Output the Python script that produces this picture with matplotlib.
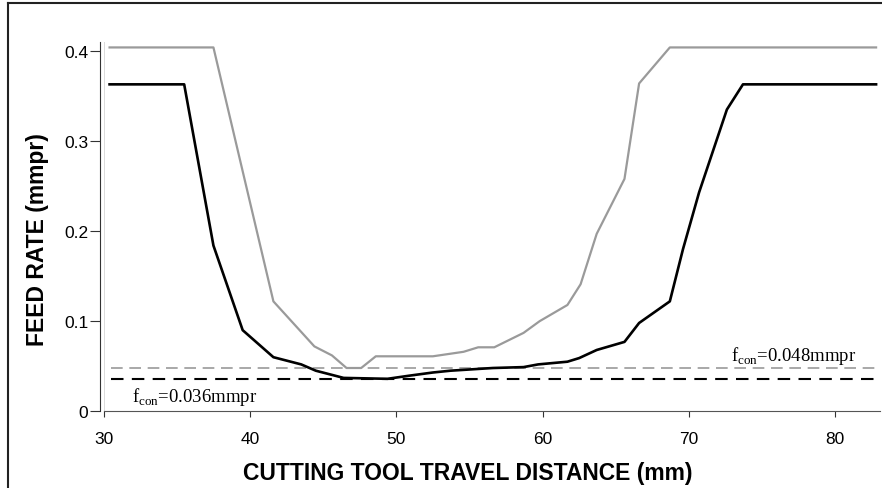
import numpy as np
import matplotlib
matplotlib.use("Agg")
import matplotlib.pyplot as plt
from matplotlib.lines import Line2D

# values
dist_black = [30.4, 35.5, 37.5, 39.5, 41.6, 43.5, 44.5, 46.4, 49.4, 50.9, 52.5,
              53.7, 56.6, 58.7, 59.7, 61.7, 62.5, 63.7, 65.6, 66.6, 68.7, 69.6,
              70.7, 72.6, 73.7, 82.8]
feed_black = [0.363, 0.363, 0.184, 0.090, 0.060, 0.052, 0.045, 0.037, 0.036, 0.0395,
              0.043, 0.045, 0.048, 0.049, 0.052, 0.055, 0.059, 0.068, 0.077, 0.098,
              0.122, 0.180, 0.243, 0.335, 0.363, 0.363]

dist_gray = [30.4, 37.5, 41.6, 44.4, 45.6, 46.6, 47.6, 48.6, 52.5, 54.6, 55.6,
             56.7, 58.7, 59.8, 61.7, 62.6, 63.7, 65.6, 66.6, 68.7, 82.8]
feed_gray = [0.404, 0.404, 0.122, 0.072, 0.062, 0.048, 0.048, 0.061, 0.061, 0.066,
             0.071, 0.071, 0.087, 0.100, 0.118, 0.141, 0.197, 0.258, 0.364, 0.404, 0.404]

f_con_black = 0.036
f_con_gray = 0.048
x_ticks = [30, 40, 50, 60, 70, 80]
y_ticks = [0, 0.1, 0.2, 0.3, 0.4]
y_ticklabels = ["0", "0.1", "0.2", "0.3", "0.4"]

plt.rcParams['font.family'] = ['Liberation Sans', 'DejaVu Sans']
plt.rcParams['mathtext.fontset'] = 'custom'
plt.rcParams['mathtext.rm'] = 'Liberation Serif'

fig = plt.figure(figsize=(8.82, 4.89), dpi=100)
ax = fig.add_axes([0.1176, 0.157, 0.880, 0.755])

# outer frame (left and top only)
fig.add_artist(Line2D([0.009, 0.009], [0, 0.991], transform=fig.transFigure,
                      color='#222222', lw=1.5))
fig.add_artist(Line2D([0.009, 1.0], [0.991, 0.991], transform=fig.transFigure,
                      color='#222222', lw=1.5))

ax.axvline(30, color='#d4d4d4', lw=1.2, zorder=1)
ax.plot([30.5, 82.8], [f_con_gray, f_con_gray], color='#999999', lw=1.2,
        dashes=(7, 4))
ax.plot([30.5, 82.8], [f_con_black, f_con_black], color='black', lw=1.5,
        dashes=(6, 4))
ax.plot(dist_gray, feed_gray, color='#9a9a9a', lw=1.6)
ax.plot(dist_black, feed_black, color='black', lw=1.9)

ax.text(31.9, 0.0118, r'f$_{\mathrm{con}}$=0.036mmpr', family='Liberation Serif',
        fontsize=13.5)
ax.text(72.85, 0.057, r'f$_{\mathrm{con}}$=0.048mmpr', family='Liberation Serif',
        fontsize=13.5)

ax.set_xlim(30, 83.06)
ax.set_ylim(0, 0.41)
ax.set_xticks(x_ticks)
ax.set_yticks(y_ticks)
ax.set_yticklabels(y_ticklabels)
ax.tick_params(axis='both', labelsize=12.5, color='#333333')
ax.tick_params(axis='x', length=4, pad=10)
ax.tick_params(axis='y', length=7, pad=1.5)

for s in ['top', 'right']:
    ax.spines[s].set_visible(False)
ax.spines['left'].set_position(('outward', 2.7))
ax.spines['left'].set_color('#333333')
ax.spines['bottom'].set_color('#555555')

ax.set_xlabel('CUTTING TOOL TRAVEL DISTANCE (mm)', fontsize=16.5, fontweight='bold',
              labelpad=11)
ax.set_ylabel('FEED RATE (mmpr)', fontsize=16.5, fontweight='bold', labelpad=11)
ax.xaxis.label.set_x(0.469)
ax.yaxis.label.set_y(0.469)

fig.savefig('out.png', dpi=100)
